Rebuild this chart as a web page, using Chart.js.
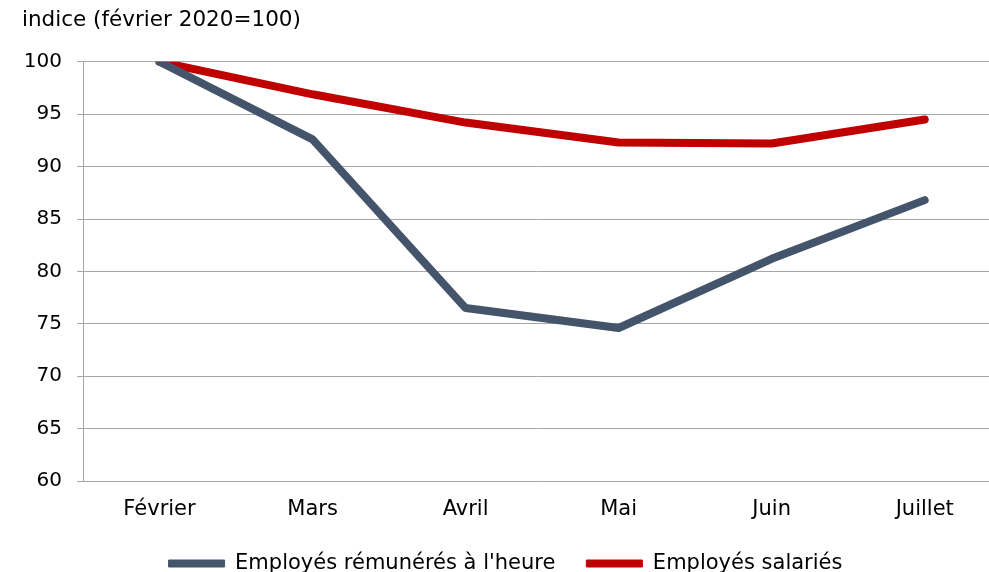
<!DOCTYPE html>
<html>
<head>
<meta charset="utf-8">
<script src="https://cdn.jsdelivr.net/npm/chart.js@4/dist/chart.umd.min.js"></script>
<style>
  html, body { margin: 0; padding: 0; background: #fff; }
  #wrap { width: 989px; height: 572px; }
</style>
</head>
<body>
<div id="wrap"><canvas id="chart"></canvas></div>
<script>
// Data
const months = ['Février', 'Mars', 'Avril', 'Mai', 'Juin', 'Juillet'];
const hourlyPaid = [100, 92.6, 76.5, 74.6, 81.2, 86.8];
const salaried = [100, 96.9, 94.2, 92.3, 92.2, 94.5];
const yTicks = [60, 65, 70, 75, 80, 85, 90, 95, 100];

const FONT = 'Verdana, "DejaVu Sans", sans-serif';
Chart.defaults.font.family = FONT;
Chart.defaults.font.size = 21;
Chart.defaults.color = '#000';

function toPoints(values) {
    return values.map((v, i) => ({ x: i, y: v }));
}

// keep the legend block short so it sits at the bottom edge like the original
const legendHeight = {
    id: 'legendHeight',
    afterInit(chart) {
        const fit = chart.legend.fit;
        chart.legend.fit = function () {
            fit.call(this);
            this.height = 50;
        };
    }
};

const ctx = document.getElementById('chart').getContext('2d');
new Chart(ctx, {
    type: 'line',
    data: {
        datasets: [{
            label: "Employés rémunérés à l'heure",
            data: toPoints(hourlyPaid),
            borderColor: '#44546A',
            backgroundColor: '#44546A',
            borderWidth: 8,
            borderCapStyle: 'round',
            borderJoinStyle: 'round',
            pointRadius: 0,
            tension: 0
        }, {
            label: 'Employés salariés',
            data: toPoints(salaried),
            borderColor: '#C00000',
            backgroundColor: '#C00000',
            borderWidth: 8,
            borderCapStyle: 'round',
            borderJoinStyle: 'round',
            pointRadius: 0,
            tension: 0
        }]
    },
    options: {
        responsive: true,
        maintainAspectRatio: false,
        animation: false,
        layout: { padding: { left: 22, right: 0, top: 4, bottom: 0 } },
        scales: {
            x: {
                type: 'linear',
                min: -0.5,
                max: 5.42,
                afterBuildTicks: (axis) => {
                    axis.ticks = months.map((m, i) => ({ value: i }));
                },
                afterFit: (axis) => { axis.height = 41; },
                ticks: {
                    padding: 16,
                    maxRotation: 0,
                    autoSkip: false,
                    callback: (v) => months[v]
                },
                grid: { display: false, drawTicks: false },
                border: { display: true, color: '#A6A6A6' }
            },
            y: {
                min: 60,
                max: 100,
                afterBuildTicks: (axis) => {
                    axis.ticks = yTicks.map(v => ({ value: v }));
                },
                afterFit: (axis) => { axis.width = 61; },
                ticks: { padding: 15, font: { size: 20 } },
                grid: { color: '#A6A6A6', lineWidth: 1, tickLength: 6 },
                border: { display: true, color: '#A6A6A6' }
            }
        },
        plugins: {
            title: {
                display: true,
                text: 'indice (février 2020=100)',
                align: 'start',
                color: '#000',
                font: { size: 21.5, weight: 'normal' },
                padding: { top: 4, bottom: 28 }
            },
            legend: {
                position: 'bottom',
                labels: {
                    boxWidth: 56,
                    boxHeight: 7,
                    useBorderRadius: true,
                    borderRadius: 3.5,
                    padding: 31,
                    color: '#000',
                    font: { size: 21 },
                    generateLabels: (chart) => chart.data.datasets.map((ds, i) => ({
                        text: ds.label,
                        fillStyle: ds.borderColor,
                        strokeStyle: ds.borderColor,
                        lineWidth: 1,
                        fontColor: '#000',
                        hidden: !chart.isDatasetVisible(i),
                        datasetIndex: i
                    }))
                }
            },
            tooltip: { enabled: false }
        }
    },
    plugins: [legendHeight]
});
</script>
</body>
</html>
